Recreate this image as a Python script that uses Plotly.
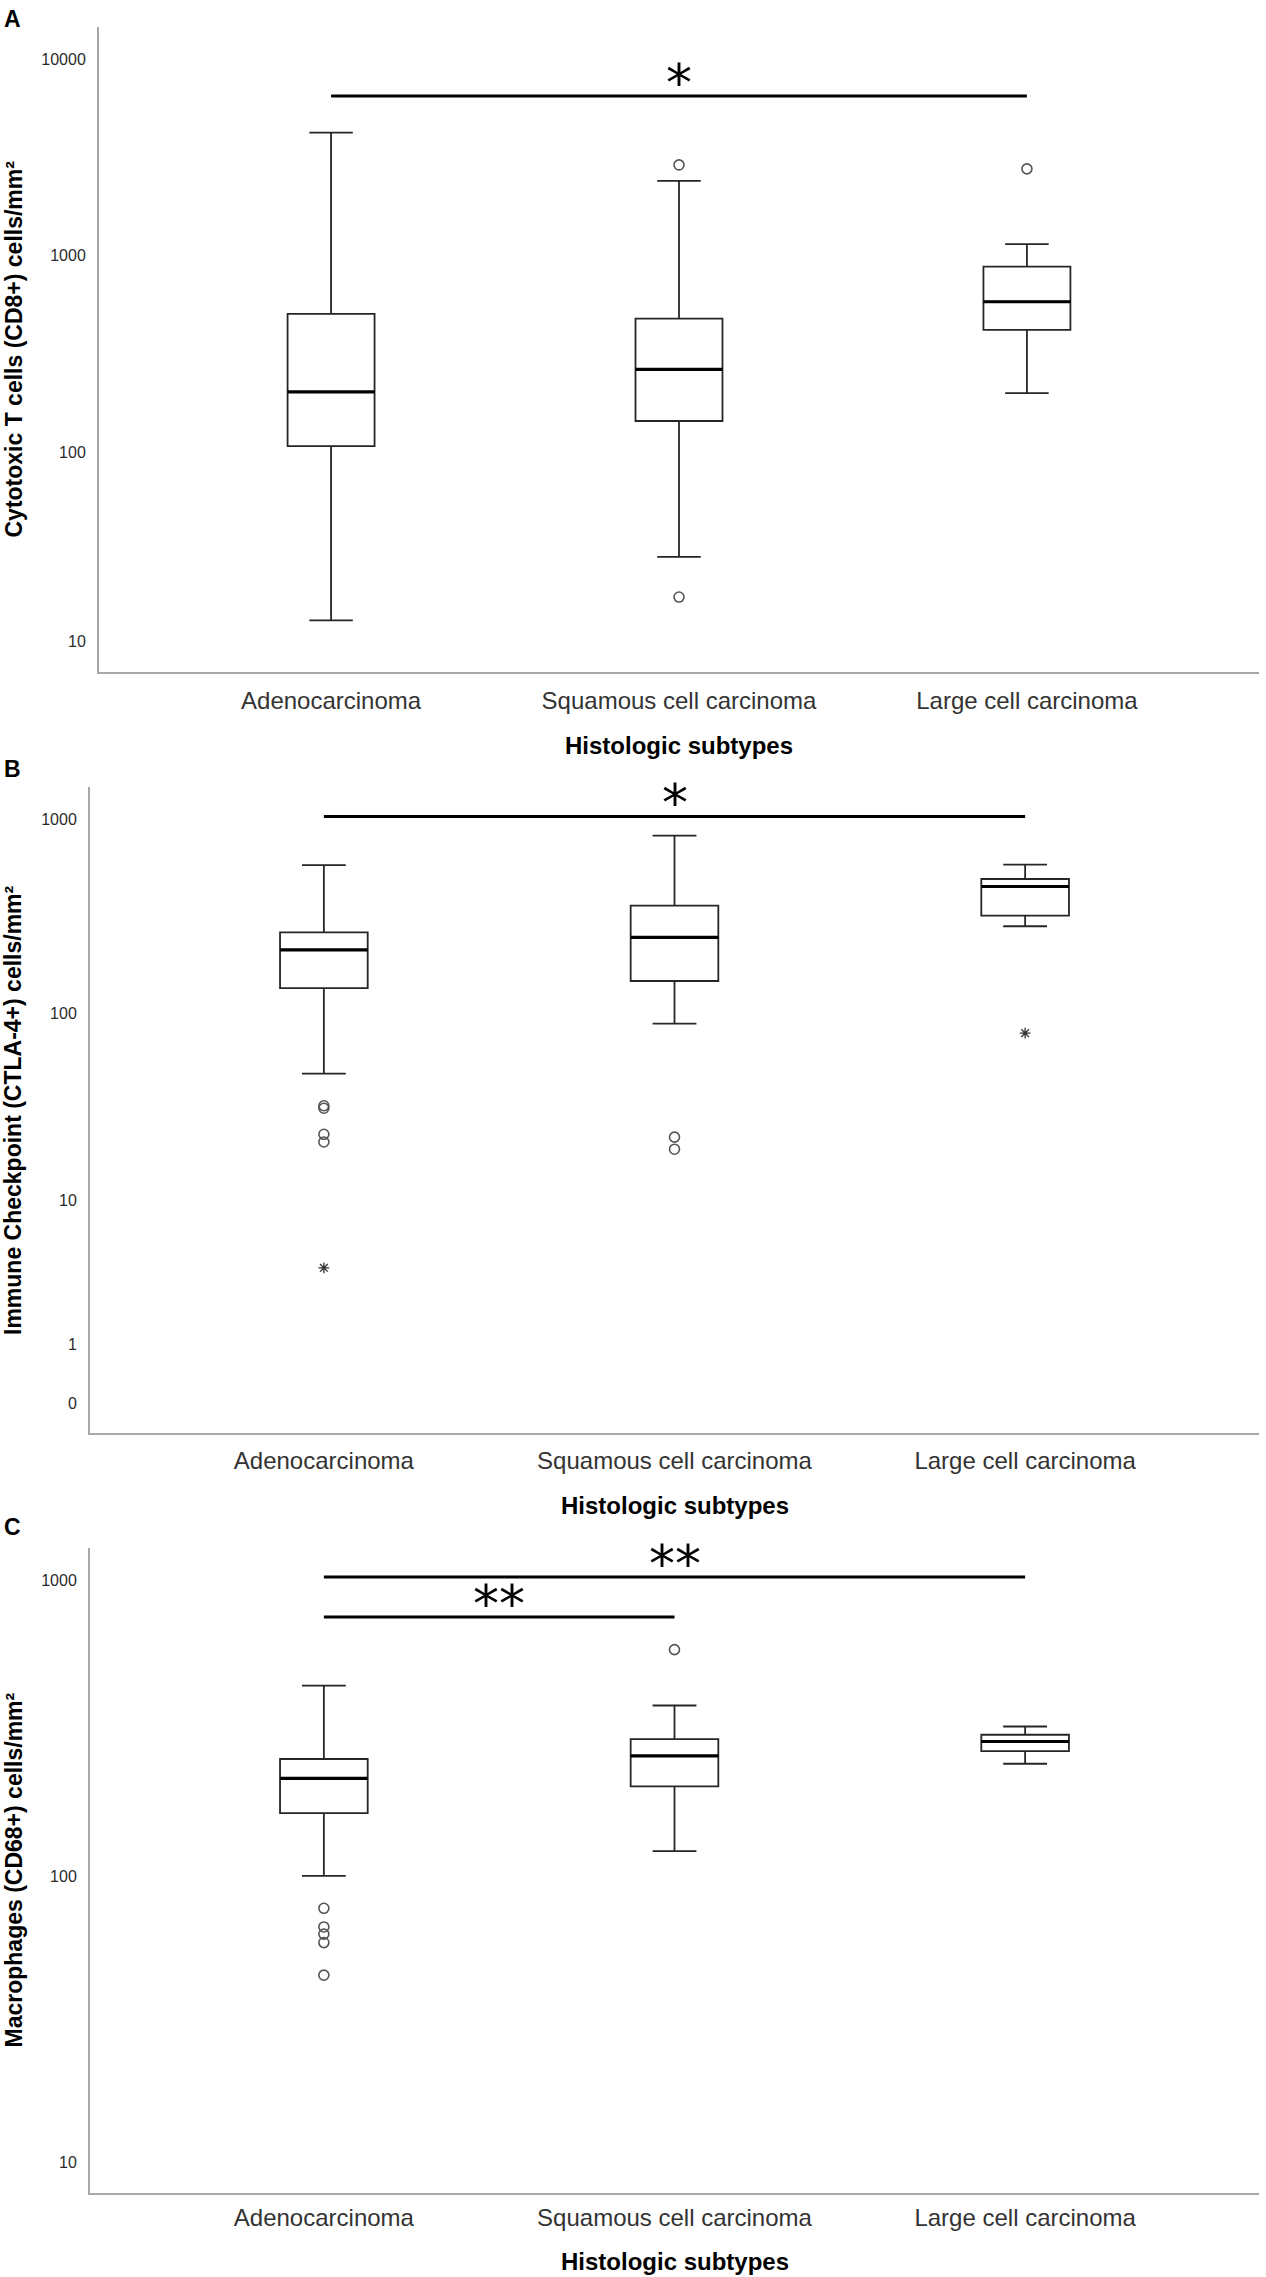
import numpy as np
import plotly.graph_objects as go

categories = ["Adenocarcinoma", "Squamous cell carcinoma", "Large cell carcinoma"]

# A - cytotoxic T cells (CD8+), cells/mm²
cd8_lower = [13.1, 28.6, 200]
cd8_q1 = [107, 144, 420]
cd8_median = [203, 264, 584]
cd8_q3 = [507, 479, 882]
cd8_upper = [4225, 2403, 1147]
cd8_outliers = [[], [17.5, 2897], [2766]]
cd8_extremes = [[], [], []]
cd8_ticks = [10, 100, 1000, 10000]
cd8_sig_from = [0]
cd8_sig_to = [2]
cd8_sig_level = [6490]
cd8_sig_label = ["*"]

# B - immune checkpoint (CTLA-4+), cells/mm²
ctla4_lower = [48.4, 88.4, 282]
ctla4_q1 = [135, 147, 320]
ctla4_median = [213, 247, 452]
ctla4_q3 = [262, 360, 494]
ctla4_upper = [583, 827, 586]
ctla4_outliers = [[21.0, 23.1, 31.8, 32.8], [19.2, 22.3], []]
ctla4_extremes = [[3.96], [], [78.8]]
ctla4_ticks = [0, 1, 10, 100, 1000]
ctla4_sig_from = [0]
ctla4_sig_to = [2]
ctla4_sig_level = [1037]
ctla4_sig_label = ["*"]

# C - macrophages (CD68+), cells/mm²
cd68_lower = [100.5, 122, 241]
cd68_q1 = [164, 202, 266]
cd68_median = [215, 256, 286.5]
cd68_q3 = [250, 292, 302]
cd68_upper = [442, 379, 322]
cd68_outliers = [[46.0, 59.5, 63.6, 67.3, 77.9], [585], []]
cd68_extremes = [[], [], []]
cd68_ticks = [10, 100, 1000]
cd68_sig_from = [0, 0]
cd68_sig_to = [1, 2]
cd68_sig_level = [753, 1028]
cd68_sig_label = ["**", "**"]

W, H = 1266, 2277
FONT = "Liberation Sans, Arial, sans-serif"
INK = "#262626"


# SPSS style "safe log" scale: log10(x + 1), so 0 can be shown
def slog(v):
    return np.log10(np.asarray(v, dtype=float) + 1)


panels = [
    dict(letter="A", ytitle="Cytotoxic T cells (CD8+) cells/mm²",
         lower=cd8_lower, q1=cd8_q1, median=cd8_median, q3=cd8_q3, upper=cd8_upper,
         outliers=cd8_outliers, extremes=cd8_extremes, ticks=cd8_ticks,
         sig=(cd8_sig_from, cd8_sig_to, cd8_sig_level, cd8_sig_label),
         left=99, top=27, bottom=672, yrange=[0.8865, 4.1626],
         letter_top=4, xtitle_gap=73, cat_standoff=6),
    dict(letter="B", ytitle="Immune Checkpoint (CTLA-4+) cells/mm²",
         lower=ctla4_lower, q1=ctla4_q1, median=ctla4_median, q3=ctla4_q3, upper=ctla4_upper,
         outliers=ctla4_outliers, extremes=ctla4_extremes, ticks=ctla4_ticks,
         sig=(ctla4_sig_from, ctla4_sig_to, ctla4_sig_level, ctla4_sig_label),
         left=90, top=787, bottom=1433, yrange=[-0.1537, 3.1676],
         letter_top=754, xtitle_gap=72, cat_standoff=5),
    dict(letter="C", ytitle="Macrophages (CD68+) cells/mm²",
         lower=cd68_lower, q1=cd68_q1, median=cd68_median, q3=cd68_q3, upper=cd68_upper,
         outliers=cd68_outliers, extremes=cd68_extremes, ticks=cd68_ticks,
         sig=(cd68_sig_from, cd68_sig_to, cd68_sig_level, cd68_sig_label),
         left=90, top=1548, bottom=2193, yrange=[0.9388, 3.110],
         letter_top=1512, xtitle_gap=68, cat_standoff=2),
]

fig = go.Figure()
annotations = []
box_w = 0.25
pos = list(range(len(categories)))

for k, p in enumerate(panels, start=1):
    xa = "x" if k == 1 else f"x{k}"
    ya = "y" if k == 1 else f"y{k}"

    fig.add_trace(go.Box(
        x=pos, q1=slog(p["q1"]), median=slog(p["median"]), q3=slog(p["q3"]),
        lowerfence=slog(p["lower"]), upperfence=slog(p["upper"]),
        width=box_w, whiskerwidth=0.5, fillcolor="white",
        line=dict(color=INK, width=1.8), boxpoints=False,
        showlegend=False, hoverinfo="skip", xaxis=xa, yaxis=ya,
    ))

    # thicker median line
    mx, my = [], []
    for i, m in zip(pos, slog(p["median"])):
        mx += [i - box_w / 2, i + box_w / 2, None]
        my += [m, m, None]
    fig.add_trace(go.Scatter(x=mx, y=my, mode="lines", line=dict(color="black", width=3.2),
                             showlegend=False, hoverinfo="skip", xaxis=xa, yaxis=ya))

    ox = [i for i, vals in enumerate(p["outliers"]) for _ in vals]
    oy = [v for vals in p["outliers"] for v in vals]
    if oy:
        fig.add_trace(go.Scatter(x=ox, y=slog(oy), mode="markers",
                                 marker=dict(symbol="circle-open", size=10, color="#555",
                                             line=dict(width=1.6)),
                                 showlegend=False, hoverinfo="skip", xaxis=xa, yaxis=ya))

    ex = [i for i, vals in enumerate(p["extremes"]) for _ in vals]
    ey = [v for vals in p["extremes"] for v in vals]
    if ey:
        fig.add_trace(go.Scatter(x=ex, y=slog(ey), mode="markers",
                                 marker=dict(symbol="asterisk-open", size=9, color="#333",
                                             line=dict(width=1.3)),
                                 showlegend=False, hoverinfo="skip", xaxis=xa, yaxis=ya))

    # significance brackets
    s_from, s_to, s_level, s_label = p["sig"]
    for a, b, lev, lab in zip(s_from, s_to, s_level, s_label):
        fig.add_trace(go.Scatter(x=[a, b], y=slog([lev, lev]), mode="lines",
                                 line=dict(color="black", width=3),
                                 showlegend=False, hoverinfo="skip", xaxis=xa, yaxis=ya))
        annotations.append(dict(x=(a + b) / 2, y=float(slog(lev)), xref=xa, yref=ya,
                                text=lab, showarrow=False, yanchor="middle", yshift=13,
                                font=dict(family="DejaVu Sans", size=52, color="black")))

    dom_y = [1 - p["bottom"] / H, 1 - p["top"] / H]
    fig.update_layout({
        ("xaxis" if k == 1 else f"xaxis{k}"): dict(
            domain=[p["left"] / W, 1259 / W], anchor=ya, range=[-0.667, 2.667],
            tickvals=pos, ticktext=categories, ticks="", showline=True,
            linecolor="#a8a8a8", linewidth=2, showgrid=False, zeroline=False,
            tickfont=dict(family=FONT, size=24, color="#333"),
            ticklabelstandoff=p["cat_standoff"],
        ),
        ("yaxis" if k == 1 else f"yaxis{k}"): dict(
            domain=dom_y, anchor=xa, range=p["yrange"],
            tickvals=slog(p["ticks"]), ticktext=[str(t) for t in p["ticks"]],
            ticks="", showline=True, linecolor="#a8a8a8", linewidth=2,
            showgrid=False, zeroline=False,
            tickfont=dict(family=FONT, size=16, color="#2b2b2b"), ticklabelstandoff=8,
        ),
    })

    annotations.append(dict(x=0.5, y=0, xref=f"{xa} domain", yref=f"{ya} domain",
                            text="<b>Histologic subtypes</b>", showarrow=False,
                            yanchor="middle", yshift=-p["xtitle_gap"],
                            font=dict(family=FONT, size=24, color="black")))
    annotations.append(dict(x=13 / W, y=0.5, xref="paper", yref=f"{ya} domain",
                            text=f"<b>{p['ytitle']}</b>", showarrow=False, textangle=-90,
                            xanchor="center", yanchor="middle",
                            font=dict(family=FONT, size=23, color="black")))
    annotations.append(dict(x=2 / W, y=1 - p["letter_top"] / H, xref="paper", yref="paper",
                            text=f"<b>{p['letter']}</b>", showarrow=False,
                            xanchor="left", yanchor="top",
                            font=dict(family=FONT, size=23, color="black")))

fig.update_layout(
    width=W, height=H,
    margin=dict(l=0, r=0, t=0, b=0),
    paper_bgcolor="white", plot_bgcolor="white",
    showlegend=False, annotations=annotations,
)

# drop the browser's default page margin so the figure sits at the top-left corner
fig.write_html("out.html", config={"displayModeBar": False},
               post_script="document.body.style.margin = '0';")
